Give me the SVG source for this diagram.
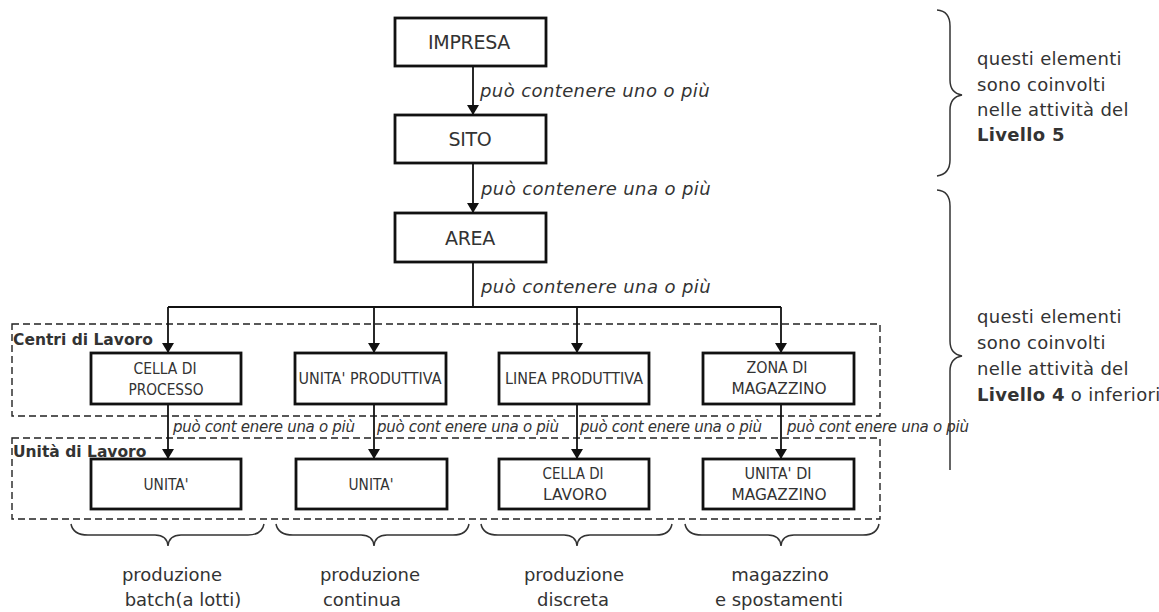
<svg xmlns="http://www.w3.org/2000/svg" width="1159" height="612" viewBox="0 0 1159 612">
  <defs>
    <marker id="arrow" viewBox="0 0 10 12" refX="10" refY="6" markerWidth="10" markerHeight="12" markerUnits="userSpaceOnUse" orient="auto">
      <path d="M0,0 L10,6 L0,12 Z" fill="#111"/>
    </marker>
    <style>
      .box { fill: #fff; stroke: #111; stroke-width: 2.8; }
      .zone { fill: none; stroke: #222; stroke-width: 1.4; stroke-dasharray: 7 4; }
      .link { fill: none; stroke: #111; stroke-width: 1.8; }
      .brace { fill: none; stroke: #333; stroke-width: 1.5; }
      .top { font-family: "DejaVu Sans", "Liberation Sans", sans-serif; font-size: 19px; fill: #333; text-anchor: middle; letter-spacing: -0.3px; }
      .lbl { font-family: "DejaVu Sans", "Liberation Sans", sans-serif; font-size: 15px; fill: #333; text-anchor: middle; }
      .rel { font-family: "DejaVu Sans", "Liberation Sans", sans-serif; font-size: 18px; font-style: italic; fill: #333; letter-spacing: 0.4px; }
      .rel2 { font-family: "DejaVu Sans", "Liberation Sans", sans-serif; font-size: 15px; font-style: italic; fill: #333; letter-spacing: -0.3px; }
      .zt { font-family: "DejaVu Sans", "Liberation Sans", sans-serif; font-size: 15.5px; font-weight: bold; fill: #333; }
      .note { font-family: "DejaVu Sans", "Liberation Sans", sans-serif; font-size: 18px; fill: #333; letter-spacing: 0.3px; }
      .cap { font-family: "DejaVu Sans", "Liberation Sans", sans-serif; font-size: 18px; fill: #333; text-anchor: middle; }
    </style>
  </defs>

  <!-- dashed zones -->
  <g id="zone-centri">
    <rect class="zone" x="12" y="324" width="868" height="92"/>
    <text class="zt" x="13" y="345">Centri di Lavoro</text>
  </g>
  <g id="zone-unita">
    <rect class="zone" x="12" y="438" width="868" height="81"/>
    <text class="zt" x="13" y="457">Unità di Lavoro</text>
  </g>

  <!-- connectors -->
  <g id="connectors">
    <line class="link" x1="473" y1="66" x2="473" y2="115" marker-end="url(#arrow)"/>
    <line class="link" x1="473" y1="163" x2="473" y2="213" marker-end="url(#arrow)"/>
    <polyline class="link" points="473,262 473,307"/>
    <line class="link" x1="168" y1="307" x2="781" y2="307"/>
    <line class="link" x1="168" y1="307" x2="168" y2="353" marker-end="url(#arrow)"/>
    <line class="link" x1="374" y1="307" x2="374" y2="353" marker-end="url(#arrow)"/>
    <line class="link" x1="577" y1="307" x2="577" y2="353" marker-end="url(#arrow)"/>
    <line class="link" x1="781" y1="307" x2="781" y2="353" marker-end="url(#arrow)"/>
    <line class="link" x1="168" y1="404" x2="168" y2="459" marker-end="url(#arrow)"/>
    <line class="link" x1="374" y1="404" x2="374" y2="459" marker-end="url(#arrow)"/>
    <line class="link" x1="577" y1="404" x2="577" y2="459" marker-end="url(#arrow)"/>
    <line class="link" x1="781" y1="404" x2="781" y2="459" marker-end="url(#arrow)"/>

    <text class="rel" x="480" y="97">può contenere uno o più</text>
    <text class="rel" x="481" y="195">può contenere una o più</text>
    <text class="rel" x="481" y="293">può contenere una o più</text>
    <text class="rel2" x="173" y="432">può cont enere una o più</text>
    <text class="rel2" x="377" y="432">può cont enere una o più</text>
    <text class="rel2" x="580" y="432">può cont enere una o più</text>
    <text class="rel2" x="787" y="432">può cont enere una o più</text>
  </g>

  <!-- nodes -->
  <g id="impresa">
    <rect class="box" x="395" y="18" width="151" height="48"/>
    <text class="top" x="469" y="49">IMPRESA</text>
  </g>
  <g id="sito">
    <rect class="box" x="395" y="115" width="151" height="48"/>
    <text class="top" x="470" y="146">SITO</text>
  </g>
  <g id="area">
    <rect class="box" x="395" y="213" width="151" height="49"/>
    <text class="top" x="470" y="245">AREA</text>
  </g>

  <g id="cella-processo">
    <rect class="box" x="91" y="353" width="150" height="51"/>
    <text class="lbl" x="165" y="374" textLength="63" lengthAdjust="spacingAndGlyphs">CELLA DI</text>
    <text class="lbl" x="166" y="395" textLength="75" lengthAdjust="spacingAndGlyphs">PROCESSO</text>
  </g>
  <g id="unita-produttiva">
    <rect class="box" x="295" y="353" width="151" height="51"/>
    <text class="lbl" x="370" y="384" textLength="143" lengthAdjust="spacingAndGlyphs">UNITA' PRODUTTIVA</text>
  </g>
  <g id="linea-produttiva">
    <rect class="box" x="499" y="353" width="150" height="51"/>
    <text class="lbl" x="574" y="384" textLength="138" lengthAdjust="spacingAndGlyphs">LINEA PRODUTTIVA</text>
  </g>
  <g id="zona-magazzino">
    <rect class="box" x="703" y="353" width="151" height="51"/>
    <text class="lbl" x="777" y="373" textLength="61" lengthAdjust="spacingAndGlyphs">ZONA DI</text>
    <text class="lbl" x="779" y="394" textLength="95" lengthAdjust="spacingAndGlyphs">MAGAZZINO</text>
  </g>

  <g id="unita-1">
    <rect class="box" x="91" y="459" width="150" height="50"/>
    <text class="lbl" x="166" y="490" textLength="45" lengthAdjust="spacingAndGlyphs">UNITA'</text>
  </g>
  <g id="unita-2">
    <rect class="box" x="296" y="459" width="151" height="50"/>
    <text class="lbl" x="371" y="490" textLength="45" lengthAdjust="spacingAndGlyphs">UNITA'</text>
  </g>
  <g id="cella-lavoro">
    <rect class="box" x="499" y="459" width="150" height="50"/>
    <text class="lbl" x="573" y="479" textLength="61" lengthAdjust="spacingAndGlyphs">CELLA DI</text>
    <text class="lbl" x="575" y="500" textLength="64" lengthAdjust="spacingAndGlyphs">LAVORO</text>
  </g>
  <g id="unita-magazzino">
    <rect class="box" x="703" y="459" width="151" height="50"/>
    <text class="lbl" x="778" y="479" textLength="67" lengthAdjust="spacingAndGlyphs">UNITA' DI</text>
    <text class="lbl" x="779" y="500" textLength="95" lengthAdjust="spacingAndGlyphs">MAGAZZINO</text>
  </g>

  <!-- side braces and notes -->
  <g id="note-livello5">
    <path class="brace" d="M937,10 Q950,11 950,26 L950,80 Q950,93 962,95 Q950,97 950,110 L950,160 Q950,174 937,176"/>
    <text class="note" x="977" y="65">questi elementi</text>
    <text class="note" x="977" y="91">sono coinvolti</text>
    <text class="note" x="977" y="116">nelle attività del</text>
    <text class="note" x="977" y="141"><tspan font-weight="bold">Livello 5</tspan></text>
  </g>
  <g id="note-livello4">
    <path class="brace" d="M937,190 Q950,191 950,206 L950,341 Q950,354 962,356 Q950,358 950,371 L950,470"/>
    <text class="note" x="977" y="323">questi elementi</text>
    <text class="note" x="977" y="349">sono coinvolti</text>
    <text class="note" x="977" y="375">nelle attività del</text>
    <text class="note" x="977" y="401"><tspan font-weight="bold">Livello 4</tspan> o inferiori</text>
  </g>

  <!-- bottom braces and categories -->
  <g id="cat-batch">
    <path class="brace" d="M71,524 Q73,535 88,535 L155,535 Q167,535 168,546 Q169,535 181,535 L248,535 Q262,535 264,524"/>
    <text class="cap" x="172" y="581">produzione</text>
    <text class="cap" x="183" y="606">batch(a lotti)</text>
  </g>
  <g id="cat-continua">
    <path class="brace" d="M276,524 Q278,535 293,535 L361,535 Q373,535 374,546 Q375,535 387,535 L453,535 Q467,535 469,524"/>
    <text class="cap" x="370" y="581">produzione</text>
    <text class="cap" x="362" y="606">continua</text>
  </g>
  <g id="cat-discreta">
    <path class="brace" d="M481,524 Q483,535 498,535 L564,535 Q576,535 577,546 Q578,535 590,535 L656,535 Q670,535 672,524"/>
    <text class="cap" x="574" y="581">produzione</text>
    <text class="cap" x="573" y="606">discreta</text>
  </g>
  <g id="cat-magazzino">
    <path class="brace" d="M685,524 Q687,535 702,535 L768,535 Q780,535 781,546 Q782,535 794,535 L863,535 Q877,535 879,524"/>
    <text class="cap" x="780" y="581">magazzino</text>
    <text class="cap" x="779" y="606">e spostamenti</text>
  </g>
</svg>
